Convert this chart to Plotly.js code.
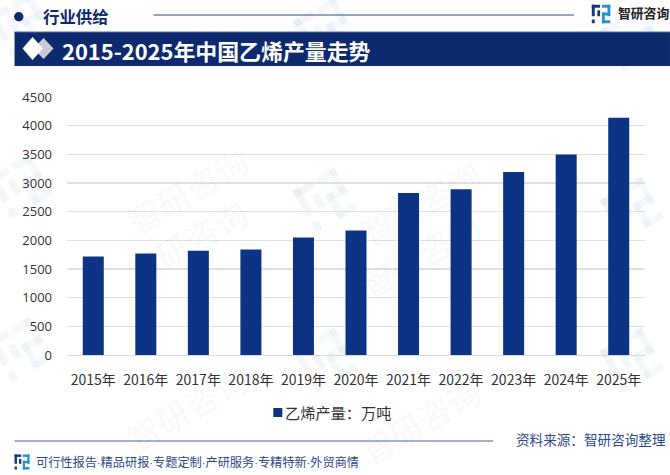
<!DOCTYPE html>
<html>
<head>
<meta charset="utf-8">
<script src="https://cdn.plot.ly/plotly-3.0.1.min.js"></script>
<style>
html, body { margin: 0; padding: 0; background: #fff; }
#chart { width: 670px; height: 475px; }
</style>
</head>
<body>
<div id="chart"></div>
<script>
// data
var years = ['2015年', '2016年', '2017年', '2018年', '2019年', '2020年', '2021年', '2022年', '2023年', '2024年', '2025年'];
var output = [1720, 1770, 1820, 1840, 2050, 2170, 2825, 2890, 3190, 3495, 4140];
var yTicks = [0, 500, 1000, 1500, 2000, 2500, 3000, 3500, 4000, 4500];
var seriesName = '乙烯产量：万吨';

var W = 670, H = 475;
var NAVY = '#0e2a6e', BAR = '#0d3484', FOOT = '#2d4a8c', CJK = '"Noto Sans CJK SC", "Noto Sans", sans-serif';
var m = { l: 66.5, r: 25, t: 97, b: 120 };

// page pixels -> paper coords, the frame around the plot is all drawn in pixels
function px(x) { return (x - m.l) / (W - m.l - m.r); }
function py(y) { return 1 - (y - m.t) / (H - m.t - m.b); }

function rect(x0, y0, x1, y1, color) {
    return { type: 'rect', xref: 'paper', yref: 'paper', layer: 'below',
        x0: px(x0), x1: px(x1), y0: py(y0), y1: py(y1), fillcolor: color, line: { width: 0 } };
}
function hline(x0, x1, y, color, w) {
    return { type: 'line', xref: 'paper', yref: 'paper', layer: 'below',
        x0: px(x0), x1: px(x1), y0: py(y), y1: py(y), line: { color: color, width: w } };
}
function poly(pts, color, opacity) {
    var d = pts.map(function (p, i) {
        return (i ? 'L' : 'M') + px(p[0]) + ',' + py(p[1]);
    }).join(' ') + ' Z';
    return { type: 'path', xref: 'paper', yref: 'paper', layer: 'below', path: d,
        fillcolor: color, opacity: opacity == null ? 1 : opacity, line: { width: 0 } };
}
function label(x, y, text, size, color, anchor, weight) {
    return { xref: 'paper', yref: 'paper', x: px(x), y: py(y), text: text, showarrow: false,
        xanchor: anchor || 'left', yanchor: 'middle',
        font: { family: CJK, size: size, color: color, weight: weight || 400 } };
}

// brand mark centred on (cx, cy), s = size in px
function logo(cx, cy, s, rot, dark, light, opacity) {
    var r = (rot || 0) * Math.PI / 180;
    function bar(a, b, c, d, col) {
        var pts = [[a, b], [c, b], [c, d], [a, d]].map(function (p) {
            var dx = (p[0] - 0.5) * s, dy = (p[1] - 0.5) * s;
            return [cx + dx * Math.cos(r) - dy * Math.sin(r), cy + dx * Math.sin(r) + dy * Math.cos(r)];
        });
        return poly(pts, col, opacity);
    }
    return [
        bar(0, 0, 0.45, 0.16, dark), bar(0, 0, 0.16, 0.62, dark),
        bar(0.3, 0.3, 0.45, 0.62, dark), bar(0, 0.8, 0.16, 1, dark),
        bar(0.55, 0, 1, 0.16, light), bar(0.85, 0, 1, 0.62, light),
        bar(0.55, 0.42, 1, 0.58, light), bar(0.55, 0.42, 0.7, 1, light),
        bar(0.55, 0.84, 1, 1, light)
    ];
}

// watermark goes first so the frame sits on top of it
var shapes = [];
[[20, 186], [20, 350], [325, 200], [325, 360], [632, 209], [632, 360], [632, 40], [325, 30], [20, 25]].forEach(function (p) {
    shapes = shapes.concat(logo(p[0], p[1], 48, -30, '#6f8fb8', '#7fb4dc', 0.08));
});
shapes = shapes.concat([
    { type: 'circle', xref: 'paper', yref: 'paper', layer: 'below',
      x0: px(13.5), x1: px(23), y0: py(12), y1: py(21.5), fillcolor: NAVY, line: { width: 0 } },
    hline(153, 574, 15, '#2f4a8c', 1.2),
    rect(14, 32, 670, 66, NAVY),
    hline(14, 670, 32, '#5a6f9f', 1),
    poly([[43, 38], [53, 48.5], [43, 59], [33, 48.5]], '#c9ccd4'),
    poly([[32, 37], [42.5, 48.5], [32, 60], [22, 48.5]], '#ffffff'),
    hline(14, 493, 441, '#4a639c', 1.2),
    rect(273, 408, 282, 417, BAR)
]);
shapes = shapes.concat(logo(601, 14, 18.5, 0, '#123a80', '#2a8fd0', 1), logo(21.5, 462, 15, 0, '#123a80', '#2a8fd0', 1));

// narrow dots between the footer phrases
var footParts = ['可行性报告', '精品研报', '专题定制', '产研服务', '专精特新', '外贸商情'];
var footDot = '<span style="font-family:Liberation Sans;font-size:11px">·</span>';

var notes = [];
[[115, 133], [115, 299], [115, 465], [420, 146], [420, 312], [420, 478]].forEach(function (p) {
    notes.push({ xref: 'paper', yref: 'paper', x: px(p[0]), y: py(p[1]), text: '智研咨询',
        showarrow: false, textangle: -30, font: { family: CJK, size: 33, color: 'rgba(30,50,100,0.04)' } });
});
notes = notes.concat([
    label(40, 16, '行业供给', 16.4, NAVY, 'left', 700),
    label(616, 13, '智研咨询', 12.8, '#222222', 'left', 700),
    label(59.5, 50, '2015-2025年中国乙烯产量走势', 21.9, '#ffffff', 'left', 700),
    label(33.5, 462, footParts.join(footDot), 12.2, FOOT),
    label(668, 439, '资料来源：智研咨询整理', 13.6, FOOT, 'right'),
    label(283, 412, seriesName, 15.2, '#333333')
]);

var trace = {
    type: 'bar', x: years, y: output, name: seriesName, width: 0.4,
    marker: { color: BAR }, hoverinfo: 'x+y'
};

var layout = {
    width: W, height: H, margin: m, paper_bgcolor: '#fff', plot_bgcolor: 'rgba(0,0,0,0)',
    font: { family: CJK, color: '#333' },
    showlegend: false,
    bargap: 0.6,
    xaxis: { type: 'category', tickfont: { family: CJK, size: 14, color: '#333' },
        ticks: '', ticklabelstandoff: 12, showgrid: false, showline: true, linecolor: '#d9d9d9', linewidth: 1 },
    yaxis: { range: [0, 4500], tickvals: yTicks, ticktext: yTicks.map(String),
        tickfont: { family: 'Open Sans, sans-serif', size: 13, color: '#333' },
        gridcolor: '#e0e0e0', gridwidth: 1.2, zeroline: false, showline: false, ticks: '', ticklabelstandoff: 14 },
    shapes: shapes,
    annotations: notes
};

Plotly.newPlot('chart', [trace], layout, { displayModeBar: false, staticPlot: true });
</script>
</body>
</html>
